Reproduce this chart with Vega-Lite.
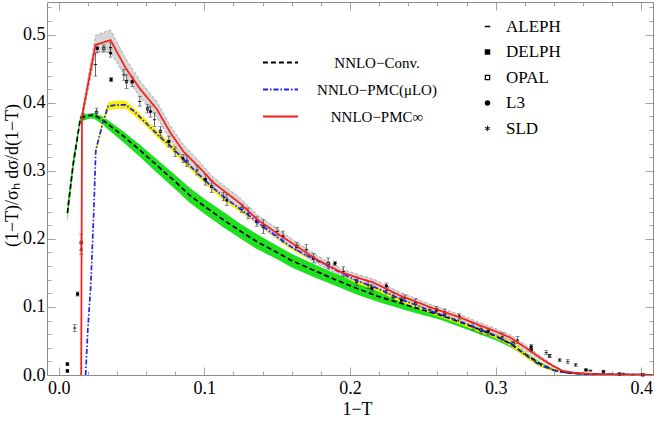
{
  "$schema": "https://vega.github.io/schema/vega-lite/v6.json",
  "width": 606,
  "height": 373,
  "autosize": {"type": "none"},
  "padding": {"left": 47, "top": 2, "right": 1, "bottom": 46},
  "background": "white",
  "datasets": {
    "theory": [
      {"model": "NNLO−Conv.", "x": 0.006, "y": 0.238, "lo": 0.225, "hi": 0.25},
      {"model": "NNLO−Conv.", "x": 0.010, "y": 0.310, "lo": 0.300, "hi": 0.320},
      {"model": "NNLO−Conv.", "x": 0.015, "y": 0.378, "lo": 0.372, "hi": 0.382},
      {"model": "NNLO−Conv.", "x": 0.020, "y": 0.381, "lo": 0.376, "hi": 0.384},
      {"model": "NNLO−Conv.", "x": 0.024, "y": 0.382, "lo": 0.377, "hi": 0.385},
      {"model": "NNLO−Conv.", "x": 0.030, "y": 0.375, "lo": 0.368, "hi": 0.380},
      {"model": "NNLO−Conv.", "x": 0.036, "y": 0.365, "lo": 0.357, "hi": 0.371},
      {"model": "NNLO−Conv.", "x": 0.045, "y": 0.350, "lo": 0.341, "hi": 0.357},
      {"model": "NNLO−Conv.", "x": 0.056, "y": 0.330, "lo": 0.320, "hi": 0.338},
      {"model": "NNLO−Conv.", "x": 0.068, "y": 0.307, "lo": 0.296, "hi": 0.316},
      {"model": "NNLO−Conv.", "x": 0.080, "y": 0.284, "lo": 0.273, "hi": 0.294},
      {"model": "NNLO−Conv.", "x": 0.090, "y": 0.264, "lo": 0.253, "hi": 0.275},
      {"model": "NNLO−Conv.", "x": 0.100, "y": 0.248, "lo": 0.237, "hi": 0.259},
      {"model": "NNLO−Conv.", "x": 0.113, "y": 0.228, "lo": 0.217, "hi": 0.240},
      {"model": "NNLO−Conv.", "x": 0.125, "y": 0.211, "lo": 0.200, "hi": 0.222},
      {"model": "NNLO−Conv.", "x": 0.136, "y": 0.196, "lo": 0.185, "hi": 0.207},
      {"model": "NNLO−Conv.", "x": 0.150, "y": 0.180, "lo": 0.170, "hi": 0.190},
      {"model": "NNLO−Conv.", "x": 0.160, "y": 0.168, "lo": 0.158, "hi": 0.178},
      {"model": "NNLO−Conv.", "x": 0.175, "y": 0.154, "lo": 0.144, "hi": 0.163},
      {"model": "NNLO−Conv.", "x": 0.190, "y": 0.140, "lo": 0.131, "hi": 0.149},
      {"model": "NNLO−Conv.", "x": 0.205, "y": 0.127, "lo": 0.118, "hi": 0.136},
      {"model": "NNLO−Conv.", "x": 0.220, "y": 0.115, "lo": 0.107, "hi": 0.123},
      {"model": "NNLO−Conv.", "x": 0.240, "y": 0.102, "lo": 0.094, "hi": 0.110},
      {"model": "NNLO−Conv.", "x": 0.262, "y": 0.088, "lo": 0.081, "hi": 0.095},
      {"model": "NNLO−Conv.", "x": 0.284, "y": 0.071, "lo": 0.064, "hi": 0.078},
      {"model": "NNLO−Conv.", "x": 0.300, "y": 0.057, "lo": 0.051, "hi": 0.063},
      {"model": "NNLO−Conv.", "x": 0.310, "y": 0.046, "lo": 0.041, "hi": 0.051},
      {"model": "NNLO−Conv.", "x": 0.320, "y": 0.031, "lo": 0.027, "hi": 0.035},
      {"model": "NNLO−Conv.", "x": 0.330, "y": 0.017, "lo": 0.014, "hi": 0.020},
      {"model": "NNLO−Conv.", "x": 0.340, "y": 0.007, "lo": 0.005, "hi": 0.009},
      {"model": "NNLO−Conv.", "x": 0.350, "y": 0.003, "lo": 0.002, "hi": 0.004},
      {"model": "NNLO−Conv.", "x": 0.360, "y": 0.0015, "lo": 0.001, "hi": 0.002},
      {"model": "NNLO−Conv.", "x": 0.380, "y": 0.0008, "lo": 0.0005, "hi": 0.001},
      {"model": "NNLO−Conv.", "x": 0.408, "y": 0.0003, "lo": 0.0002, "hi": 0.0004},
      {"model": "NNLO−PMC(μLO)", "x": 0.0185, "y": 0, "lo": 0, "hi": 0},
      {"model": "NNLO−PMC(μLO)", "x": 0.020, "y": 0.066, "lo": 0.064, "hi": 0.068},
      {"model": "NNLO−PMC(μLO)", "x": 0.022, "y": 0.130, "lo": 0.127, "hi": 0.133},
      {"model": "NNLO−PMC(μLO)", "x": 0.024, "y": 0.233, "lo": 0.229, "hi": 0.237},
      {"model": "NNLO−PMC(μLO)", "x": 0.0255, "y": 0.330, "lo": 0.325, "hi": 0.335},
      {"model": "NNLO−PMC(μLO)", "x": 0.030, "y": 0.368, "lo": 0.362, "hi": 0.374},
      {"model": "NNLO−PMC(μLO)", "x": 0.034, "y": 0.395, "lo": 0.389, "hi": 0.401},
      {"model": "NNLO−PMC(μLO)", "x": 0.040, "y": 0.397, "lo": 0.391, "hi": 0.403},
      {"model": "NNLO−PMC(μLO)", "x": 0.046, "y": 0.397, "lo": 0.391, "hi": 0.403},
      {"model": "NNLO−PMC(μLO)", "x": 0.052, "y": 0.387, "lo": 0.381, "hi": 0.392},
      {"model": "NNLO−PMC(μLO)", "x": 0.061, "y": 0.368, "lo": 0.363, "hi": 0.373},
      {"model": "NNLO−PMC(μLO)", "x": 0.070, "y": 0.349, "lo": 0.344, "hi": 0.354},
      {"model": "NNLO−PMC(μLO)", "x": 0.079, "y": 0.332, "lo": 0.327, "hi": 0.337},
      {"model": "NNLO−PMC(μLO)", "x": 0.086, "y": 0.316, "lo": 0.311, "hi": 0.321},
      {"model": "NNLO−PMC(μLO)", "x": 0.095, "y": 0.297, "lo": 0.292, "hi": 0.302},
      {"model": "NNLO−PMC(μLO)", "x": 0.104, "y": 0.279, "lo": 0.274, "hi": 0.284},
      {"model": "NNLO−PMC(μLO)", "x": 0.113, "y": 0.262, "lo": 0.257, "hi": 0.267},
      {"model": "NNLO−PMC(μLO)", "x": 0.122, "y": 0.248, "lo": 0.243, "hi": 0.253},
      {"model": "NNLO−PMC(μLO)", "x": 0.1315, "y": 0.233, "lo": 0.229, "hi": 0.238},
      {"model": "NNLO−PMC(μLO)", "x": 0.1406, "y": 0.218, "lo": 0.214, "hi": 0.223},
      {"model": "NNLO−PMC(μLO)", "x": 0.150, "y": 0.203, "lo": 0.199, "hi": 0.208},
      {"model": "NNLO−PMC(μLO)", "x": 0.159, "y": 0.189, "lo": 0.185, "hi": 0.193},
      {"model": "NNLO−PMC(μLO)", "x": 0.168, "y": 0.178, "lo": 0.174, "hi": 0.182},
      {"model": "NNLO−PMC(μLO)", "x": 0.182, "y": 0.163, "lo": 0.159, "hi": 0.167},
      {"model": "NNLO−PMC(μLO)", "x": 0.195, "y": 0.149, "lo": 0.145, "hi": 0.153},
      {"model": "NNLO−PMC(μLO)", "x": 0.205, "y": 0.138, "lo": 0.134, "hi": 0.142},
      {"model": "NNLO−PMC(μLO)", "x": 0.216, "y": 0.130, "lo": 0.126, "hi": 0.134},
      {"model": "NNLO−PMC(μLO)", "x": 0.234, "y": 0.112, "lo": 0.108, "hi": 0.116},
      {"model": "NNLO−PMC(μLO)", "x": 0.257, "y": 0.093, "lo": 0.089, "hi": 0.097},
      {"model": "NNLO−PMC(μLO)", "x": 0.275, "y": 0.079, "lo": 0.075, "hi": 0.083},
      {"model": "NNLO−PMC(μLO)", "x": 0.289, "y": 0.067, "lo": 0.063, "hi": 0.071},
      {"model": "NNLO−PMC(μLO)", "x": 0.300, "y": 0.058, "lo": 0.054, "hi": 0.062},
      {"model": "NNLO−PMC(μLO)", "x": 0.310, "y": 0.047, "lo": 0.043, "hi": 0.051},
      {"model": "NNLO−PMC(μLO)", "x": 0.320, "y": 0.030, "lo": 0.026, "hi": 0.034},
      {"model": "NNLO−PMC(μLO)", "x": 0.330, "y": 0.015, "lo": 0.012, "hi": 0.018},
      {"model": "NNLO−PMC(μLO)", "x": 0.340, "y": 0.007, "lo": 0.005, "hi": 0.009},
      {"model": "NNLO−PMC(μLO)", "x": 0.350, "y": 0.003, "lo": 0.002, "hi": 0.004},
      {"model": "NNLO−PMC(μLO)", "x": 0.360, "y": 0.0015, "lo": 0.001, "hi": 0.002},
      {"model": "NNLO−PMC(μLO)", "x": 0.380, "y": 0.0008, "lo": 0.0005, "hi": 0.001},
      {"model": "NNLO−PMC(μLO)", "x": 0.408, "y": 0.0003, "lo": 0.0002, "hi": 0.0004},
      {"model": "NNLO−PMC∞", "x": 0.0155, "y": 0, "lo": 0, "hi": 0},
      {"model": "NNLO−PMC∞", "x": 0.016, "y": 0.380, "lo": 0.372, "hi": 0.386},
      {"model": "NNLO−PMC∞", "x": 0.0253, "y": 0.485, "lo": 0.474, "hi": 0.499},
      {"model": "NNLO−PMC∞", "x": 0.0356, "y": 0.492, "lo": 0.474, "hi": 0.507},
      {"model": "NNLO−PMC∞", "x": 0.046, "y": 0.451, "lo": 0.438, "hi": 0.465},
      {"model": "NNLO−PMC∞", "x": 0.056, "y": 0.420, "lo": 0.408, "hi": 0.432},
      {"model": "NNLO−PMC∞", "x": 0.0676, "y": 0.390, "lo": 0.378, "hi": 0.401},
      {"model": "NNLO−PMC∞", "x": 0.0767, "y": 0.356, "lo": 0.345, "hi": 0.366},
      {"model": "NNLO−PMC∞", "x": 0.0858, "y": 0.328, "lo": 0.318, "hi": 0.338},
      {"model": "NNLO−PMC∞", "x": 0.097, "y": 0.304, "lo": 0.295, "hi": 0.313},
      {"model": "NNLO−PMC∞", "x": 0.106, "y": 0.283, "lo": 0.275, "hi": 0.291},
      {"model": "NNLO−PMC∞", "x": 0.1155, "y": 0.267, "lo": 0.259, "hi": 0.275},
      {"model": "NNLO−PMC∞", "x": 0.1247, "y": 0.252, "lo": 0.244, "hi": 0.260},
      {"model": "NNLO−PMC∞", "x": 0.136, "y": 0.229, "lo": 0.222, "hi": 0.236},
      {"model": "NNLO−PMC∞", "x": 0.150, "y": 0.208, "lo": 0.201, "hi": 0.215},
      {"model": "NNLO−PMC∞", "x": 0.1635, "y": 0.189, "lo": 0.183, "hi": 0.195},
      {"model": "NNLO−PMC∞", "x": 0.177, "y": 0.170, "lo": 0.164, "hi": 0.176},
      {"model": "NNLO−PMC∞", "x": 0.193, "y": 0.152, "lo": 0.147, "hi": 0.157},
      {"model": "NNLO−PMC∞", "x": 0.205, "y": 0.143, "lo": 0.138, "hi": 0.148},
      {"model": "NNLO−PMC∞", "x": 0.216, "y": 0.136, "lo": 0.131, "hi": 0.141},
      {"model": "NNLO−PMC∞", "x": 0.234, "y": 0.117, "lo": 0.113, "hi": 0.122},
      {"model": "NNLO−PMC∞", "x": 0.257, "y": 0.098, "lo": 0.094, "hi": 0.102},
      {"model": "NNLO−PMC∞", "x": 0.275, "y": 0.085, "lo": 0.081, "hi": 0.089},
      {"model": "NNLO−PMC∞", "x": 0.289, "y": 0.073, "lo": 0.069, "hi": 0.077},
      {"model": "NNLO−PMC∞", "x": 0.300, "y": 0.064, "lo": 0.060, "hi": 0.068},
      {"model": "NNLO−PMC∞", "x": 0.310, "y": 0.055, "lo": 0.051, "hi": 0.059},
      {"model": "NNLO−PMC∞", "x": 0.320, "y": 0.041, "lo": 0.037, "hi": 0.045},
      {"model": "NNLO−PMC∞", "x": 0.330, "y": 0.026, "lo": 0.023, "hi": 0.029},
      {"model": "NNLO−PMC∞", "x": 0.338, "y": 0.015, "lo": 0.013, "hi": 0.017},
      {"model": "NNLO−PMC∞", "x": 0.346, "y": 0.006, "lo": 0.005, "hi": 0.007},
      {"model": "NNLO−PMC∞", "x": 0.355, "y": 0.003, "lo": 0.0025, "hi": 0.0035},
      {"model": "NNLO−PMC∞", "x": 0.370, "y": 0.0012, "lo": 0.001, "hi": 0.0014},
      {"model": "NNLO−PMC∞", "x": 0.408, "y": 0.0003, "lo": 0.0002, "hi": 0.0004}
    ],
    "exp": [
      {"exp": "DELPH", "x": 0.006, "y": 0.016, "lo": 0.014, "hi": 0.018},
      {"exp": "DELPH", "x": 0.006, "y": 0.006, "lo": 0.004, "hi": 0.008},
      {"exp": "ALEPH", "x": 0.011, "y": 0.069, "lo": 0.064, "hi": 0.074},
      {"exp": "DELPH", "x": 0.013, "y": 0.119, "lo": 0.116, "hi": 0.122},
      {"exp": "OPAL", "x": 0.0155, "y": 0.195, "lo": 0.183, "hi": 0.207},
      {"exp": "ALEPH", "x": 0.0155, "y": 0.185, "lo": 0.177, "hi": 0.193},
      {"exp": "ALEPH", "x": 0.017, "y": 0.380, "lo": 0.376, "hi": 0.384},
      {"exp": "OPAL", "x": 0.026, "y": 0.386, "lo": 0.380, "hi": 0.392},
      {"exp": "ALEPH", "x": 0.0253, "y": 0.456, "lo": 0.439, "hi": 0.473},
      {"exp": "DELPH", "x": 0.0265, "y": 0.480, "lo": 0.474, "hi": 0.486},
      {"exp": "OPAL", "x": 0.031, "y": 0.480, "lo": 0.475, "hi": 0.485},
      {"exp": "ALEPH", "x": 0.0356, "y": 0.481, "lo": 0.474, "hi": 0.488},
      {"exp": "L3", "x": 0.0356, "y": 0.473, "lo": 0.467, "hi": 0.479},
      {"exp": "DELPH", "x": 0.036, "y": 0.434, "lo": 0.431, "hi": 0.437},
      {"exp": "ALEPH", "x": 0.0447, "y": 0.441, "lo": 0.433, "hi": 0.449},
      {"exp": "OPAL", "x": 0.0466, "y": 0.431, "lo": 0.421, "hi": 0.441},
      {"exp": "DELPH", "x": 0.0505, "y": 0.431, "lo": 0.424, "hi": 0.438},
      {"exp": "ALEPH", "x": 0.0557, "y": 0.402, "lo": 0.395, "hi": 0.409},
      {"exp": "OPAL", "x": 0.061, "y": 0.391, "lo": 0.385, "hi": 0.397},
      {"exp": "L3", "x": 0.063, "y": 0.387, "lo": 0.379, "hi": 0.395},
      {"exp": "ALEPH", "x": 0.0658, "y": 0.375, "lo": 0.365, "hi": 0.385},
      {"exp": "OPAL", "x": 0.0699, "y": 0.358, "lo": 0.351, "hi": 0.365},
      {"exp": "DELPH", "x": 0.0756, "y": 0.343, "lo": 0.335, "hi": 0.351},
      {"exp": "ALEPH", "x": 0.080, "y": 0.328, "lo": 0.321, "hi": 0.335},
      {"exp": "L3", "x": 0.0854, "y": 0.318, "lo": 0.312, "hi": 0.324},
      {"exp": "OPAL", "x": 0.088, "y": 0.314, "lo": 0.306, "hi": 0.322},
      {"exp": "ALEPH", "x": 0.095, "y": 0.301, "lo": 0.294, "hi": 0.308},
      {"exp": "DELPH", "x": 0.1007, "y": 0.287, "lo": 0.279, "hi": 0.295},
      {"exp": "OPAL", "x": 0.105, "y": 0.277, "lo": 0.268, "hi": 0.286},
      {"exp": "ALEPH", "x": 0.1132, "y": 0.262, "lo": 0.256, "hi": 0.268},
      {"exp": "L3", "x": 0.1155, "y": 0.257, "lo": 0.249, "hi": 0.265},
      {"exp": "OPAL", "x": 0.1258, "y": 0.245, "lo": 0.239, "hi": 0.251},
      {"exp": "ALEPH", "x": 0.130, "y": 0.2375, "lo": 0.2295, "hi": 0.2455},
      {"exp": "DELPH", "x": 0.136, "y": 0.2255, "lo": 0.2185, "hi": 0.2325},
      {"exp": "OPAL", "x": 0.1406, "y": 0.218, "lo": 0.208, "hi": 0.228},
      {"exp": "ALEPH", "x": 0.150, "y": 0.211, "lo": 0.205, "hi": 0.217},
      {"exp": "L3", "x": 0.154, "y": 0.2034, "lo": 0.1954, "hi": 0.2114},
      {"exp": "OPAL", "x": 0.1635, "y": 0.189, "lo": 0.183, "hi": 0.195},
      {"exp": "ALEPH", "x": 0.170, "y": 0.184, "lo": 0.176, "hi": 0.192},
      {"exp": "DELPH", "x": 0.175, "y": 0.1716, "lo": 0.1646, "hi": 0.1786},
      {"exp": "OPAL", "x": 0.185, "y": 0.164, "lo": 0.156, "hi": 0.172},
      {"exp": "L3", "x": 0.1897, "y": 0.164, "lo": 0.161, "hi": 0.167},
      {"exp": "ALEPH", "x": 0.1955, "y": 0.152, "lo": 0.145, "hi": 0.159},
      {"exp": "OPAL", "x": 0.2046, "y": 0.138, "lo": 0.132, "hi": 0.144},
      {"exp": "ALEPH", "x": 0.2125, "y": 0.132, "lo": 0.127, "hi": 0.137},
      {"exp": "DELPH", "x": 0.215, "y": 0.1275, "lo": 0.1225, "hi": 0.1325},
      {"exp": "L3", "x": 0.225, "y": 0.131, "lo": 0.127, "hi": 0.135},
      {"exp": "ALEPH", "x": 0.225, "y": 0.124, "lo": 0.119, "hi": 0.129},
      {"exp": "OPAL", "x": 0.2297, "y": 0.115, "lo": 0.109, "hi": 0.121},
      {"exp": "DELPH", "x": 0.2354, "y": 0.110, "lo": 0.106, "hi": 0.114},
      {"exp": "ALEPH", "x": 0.2377, "y": 0.1127, "lo": 0.1077, "hi": 0.1177},
      {"exp": "OPAL", "x": 0.245, "y": 0.105, "lo": 0.098, "hi": 0.112},
      {"exp": "ALEPH", "x": 0.2548, "y": 0.0956, "lo": 0.0916, "hi": 0.0996},
      {"exp": "DELPH", "x": 0.2594, "y": 0.0956, "lo": 0.0906, "hi": 0.1006},
      {"exp": "OPAL", "x": 0.265, "y": 0.091, "lo": 0.085, "hi": 0.097},
      {"exp": "L3", "x": 0.275, "y": 0.086, "lo": 0.082, "hi": 0.090},
      {"exp": "ALEPH", "x": 0.2845, "y": 0.071, "lo": 0.066, "hi": 0.076},
      {"exp": "OPAL", "x": 0.290, "y": 0.066, "lo": 0.061, "hi": 0.071},
      {"exp": "DELPH", "x": 0.2948, "y": 0.0637, "lo": 0.0587, "hi": 0.0687},
      {"exp": "ALEPH", "x": 0.3046, "y": 0.056, "lo": 0.050, "hi": 0.062},
      {"exp": "OPAL", "x": 0.312, "y": 0.0466, "lo": 0.0436, "hi": 0.0496},
      {"exp": "ALEPH", "x": 0.315, "y": 0.0515, "lo": 0.0465, "hi": 0.0565},
      {"exp": "L3", "x": 0.3244, "y": 0.0417, "lo": 0.0387, "hi": 0.0447},
      {"exp": "DELPH", "x": 0.3244, "y": 0.0368, "lo": 0.0338, "hi": 0.0398},
      {"exp": "ALEPH", "x": 0.3347, "y": 0.0328, "lo": 0.0298, "hi": 0.0358},
      {"exp": "OPAL", "x": 0.337, "y": 0.028, "lo": 0.026, "hi": 0.030},
      {"exp": "SLD", "x": 0.344, "y": 0.022, "lo": 0.020, "hi": 0.024},
      {"exp": "ALEPH", "x": 0.3495, "y": 0.0196, "lo": 0.0166, "hi": 0.0226},
      {"exp": "SLD", "x": 0.355, "y": 0.0147, "lo": 0.0127, "hi": 0.0167},
      {"exp": "DELPH", "x": 0.362, "y": 0.0074, "lo": 0.0064, "hi": 0.0084},
      {"exp": "ALEPH", "x": 0.365, "y": 0.0064, "lo": 0.0054, "hi": 0.0074},
      {"exp": "L3", "x": 0.374, "y": 0.005, "lo": 0.003, "hi": 0.007},
      {"exp": "DELPH", "x": 0.385, "y": 0.0015, "lo": 0.0005, "hi": 0.0025},
      {"exp": "SLD", "x": 0.3875, "y": 0.0015, "lo": 0.0005, "hi": 0.0025},
      {"exp": "ALEPH", "x": 0.394, "y": 0.0005, "lo": 0.0, "hi": 0.001},
      {"exp": "OPAL", "x": 0.401, "y": 0.0003, "lo": 0.0, "hi": 0.0006}
    ]
  },
  "layer": [
    {
      "data": {"name": "theory"},
      "transform": [{"filter": "datum.model === 'NNLO−Conv.'"}],
      "mark": {"type": "area", "color": "#1fe01f", "clip": true},
      "encoding": {
        "x": {
          "field": "x", "type": "quantitative",
          "scale": {"domain": [-0.008, 0.408], "nice": false, "zero": false},
          "axis": {
            "title": "1−T",
            "values": [0, 0.02, 0.04, 0.06, 0.08, 0.1, 0.12, 0.14, 0.16, 0.18, 0.2, 0.22, 0.24, 0.26, 0.28, 0.3, 0.32, 0.34, 0.36, 0.38, 0.4],
            "labelExpr": "abs(datum.value*10 - round(datum.value*10)) < 0.001 ? format(datum.value, '.1f') : ''",
            "tickSize": {"condition": {"test": "abs(datum.value*10 - round(datum.value*10)) < 0.001", "value": -8}, "value": -4},
            "labelPadding": 12,
            "titleX": 310,
            "titleY": 39,
            "titleBaseline": "alphabetic"
          }
        },
        "y": {
          "field": "lo", "type": "quantitative",
          "scale": {"domain": [0, 0.548], "nice": false, "zero": false},
          "axis": {
            "title": "(1−T)/σₕ dσ/d(1−T)",
            "values": [0, 0.02, 0.04, 0.06, 0.08, 0.1, 0.12, 0.14, 0.16, 0.18, 0.2, 0.22, 0.24, 0.26, 0.28, 0.3, 0.32, 0.34, 0.36, 0.38, 0.4, 0.42, 0.44, 0.46, 0.48, 0.5, 0.52, 0.54],
            "labelExpr": "abs(datum.value*10 - round(datum.value*10)) < 0.001 ? format(datum.value, '.1f') : ''",
            "tickSize": {"condition": {"test": "abs(datum.value*10 - round(datum.value*10)) < 0.001", "value": -8}, "value": -4},
            "labelPadding": 10,
            "titleX": -35,
            "titleY": 173,
            "titleAlign": "center",
            "titleBaseline": "middle",
            "titleAngle": -90
          }
        },
        "y2": {"field": "hi"}
      }
    },
    {
      "data": {"name": "theory"},
      "transform": [{"filter": "datum.model === 'NNLO−PMC(μLO)'"}],
      "mark": {"type": "area", "color": "#f7f000", "clip": true},
      "encoding": {
        "x": {"field": "x", "type": "quantitative", "scale": {"domain": [-0.008, 0.408], "nice": false, "zero": false}, "axis": null},
        "y": {"field": "lo", "type": "quantitative", "scale": {"domain": [0, 0.548], "nice": false, "zero": false}, "axis": null},
        "y2": {"field": "hi"}
      }
    },
    {
      "data": {"name": "theory"},
      "transform": [{"filter": "datum.model === 'NNLO−PMC∞'"}],
      "mark": {"type": "area", "color": "#d6d6d6", "clip": true},
      "encoding": {
        "x": {"field": "x", "type": "quantitative", "scale": {"domain": [-0.008, 0.408], "nice": false, "zero": false}, "axis": null},
        "y": {"field": "lo", "type": "quantitative", "scale": {"domain": [0, 0.548], "nice": false, "zero": false}, "axis": null},
        "y2": {"field": "hi"}
      }
    },
    {
      "data": {"name": "theory"},
      "transform": [{"filter": "datum.model === 'NNLO−PMC∞'"}],
      "mark": {"type": "line", "color": "#9a9a9a", "strokeWidth": 0.8, "strokeDash": [3, 2], "clip": true},
      "encoding": {
        "x": {"field": "x", "type": "quantitative", "scale": {"domain": [-0.008, 0.408], "nice": false, "zero": false}, "axis": null},
        "y": {"field": "hi", "type": "quantitative", "scale": {"domain": [0, 0.548], "nice": false, "zero": false}, "axis": null}
      }
    },
    {
      "data": {"name": "theory"},
      "transform": [{"filter": "datum.model === 'NNLO−PMC∞'"}],
      "mark": {"type": "line", "color": "#9a9a9a", "strokeWidth": 0.8, "strokeDash": [3, 2], "clip": true},
      "encoding": {
        "x": {"field": "x", "type": "quantitative", "scale": {"domain": [-0.008, 0.408], "nice": false, "zero": false}, "axis": null},
        "y": {"field": "lo", "type": "quantitative", "scale": {"domain": [0, 0.548], "nice": false, "zero": false}, "axis": null}
      }
    },
    {
      "data": {"name": "exp"},
      "mark": {"type": "errorbar", "ticks": {"size": 4, "color": "#444444"}, "color": "#444444", "thickness": 0.8},
      "encoding": {
        "x": {"field": "x", "type": "quantitative", "scale": {"domain": [-0.008, 0.408], "nice": false, "zero": false}, "axis": null},
        "y": {"field": "lo", "type": "quantitative", "scale": {"domain": [0, 0.548], "nice": false, "zero": false}, "axis": null},
        "y2": {"field": "hi"}
      }
    },
    {
      "data": {"name": "exp"},
      "mark": {"type": "point", "filled": true, "color": "black", "size": 10, "opacity": 1},
      "encoding": {
        "x": {
          "field": "x", "type": "quantitative",
          "scale": {"domain": [-0.008, 0.408], "nice": false, "zero": false},
          "axis": {
            "orient": "top", "labels": false, "title": null,
            "values": [0, 0.02, 0.04, 0.06, 0.08, 0.1, 0.12, 0.14, 0.16, 0.18, 0.2, 0.22, 0.24, 0.26, 0.28, 0.3, 0.32, 0.34, 0.36, 0.38, 0.4],
            "tickSize": {"condition": {"test": "abs(datum.value*10 - round(datum.value*10)) < 0.001", "value": -8}, "value": -4}
          }
        },
        "y": {
          "field": "y", "type": "quantitative",
          "scale": {"domain": [0, 0.548], "nice": false, "zero": false},
          "axis": {
            "orient": "right", "labels": false, "title": null,
            "values": [0, 0.02, 0.04, 0.06, 0.08, 0.1, 0.12, 0.14, 0.16, 0.18, 0.2, 0.22, 0.24, 0.26, 0.28, 0.3, 0.32, 0.34, 0.36, 0.38, 0.4, 0.42, 0.44, 0.46, 0.48, 0.5, 0.52, 0.54],
            "tickSize": {"condition": {"test": "abs(datum.value*10 - round(datum.value*10)) < 0.001", "value": -8}, "value": -4}
          }
        },
        "shape": {
          "field": "exp", "type": "nominal",
          "scale": {
            "domain": ["ALEPH", "DELPH", "OPAL", "L3", "SLD"],
            "range": [
              "M-1,-0.28H1V0.28H-1Z",
              "square",
              "M-1,-1H1V1H-1Z M-0.55,-0.55V0.55H0.55V-0.55Z",
              "circle",
              "M-0.15,-1H0.15V1H-0.15Z M-0.941,-0.37L-0.791,-0.63L0.941,0.37L0.791,0.63Z M-0.791,0.63L-0.941,0.37L0.791,-0.63L0.941,-0.37Z"
            ]
          },
          "legend": {
            "orient": "none", "legendX": 432, "legendY": 16, "title": null, "padding": 0,
            "symbolSize": 30, "symbolFillColor": "black", "symbolStrokeWidth": 0,
            "labelFontSize": 17, "labelOffset": 10, "rowPadding": 7.5
          }
        }
      }
    },
    {
      "data": {"name": "theory"},
      "mark": {"type": "line", "strokeWidth": 1.7, "clip": true},
      "encoding": {
        "x": {"field": "x", "type": "quantitative", "scale": {"domain": [-0.008, 0.408], "nice": false, "zero": false}, "axis": null},
        "y": {"field": "y", "type": "quantitative", "scale": {"domain": [0, 0.548], "nice": false, "zero": false}, "axis": null},
        "color": {
          "field": "model", "type": "nominal",
          "scale": {"domain": ["NNLO−Conv.", "NNLO−PMC(μLO)", "NNLO−PMC∞"], "range": ["black", "#1f1fff", "#ff1a1a"]},
          "legend": {
            "orient": "none", "legendX": 215, "legendY": 42, "title": null, "padding": 0,
            "symbolType": "stroke", "symbolSize": 1225, "symbolStrokeWidth": 2,
            "labelFontSize": 15, "labelAlign": "center", "labelOffset": 78, "labelLimit": 300, "rowPadding": -8
          }
        },
        "strokeDash": {
          "field": "model", "type": "nominal",
          "scale": {"domain": ["NNLO−Conv.", "NNLO−PMC(μLO)", "NNLO−PMC∞"], "range": [[5, 3], [5, 2, 1.5, 2], [1, 0]]},
          "legend": {
            "orient": "none", "legendX": 215, "legendY": 42, "title": null, "padding": 0,
            "symbolType": "stroke", "symbolSize": 1225, "symbolStrokeWidth": 2,
            "labelFontSize": 15, "labelAlign": "center", "labelOffset": 78, "labelLimit": 300, "rowPadding": -8
          }
        }
      }
    }
  ],
  "resolve": {"axis": {"x": "independent", "y": "independent"}},
  "config": {
    "font": "Liberation Serif",
    "view": {"stroke": "#8c8c8c", "strokeWidth": 1},
    "axis": {
      "domain": false,
      "grid": false,
      "tickColor": "#8c8c8c",
      "tickWidth": 0.8,
      "labelColor": "black",
      "labelFont": "Liberation Serif",
      "labelFontSize": 18,
      "labelOverlap": false,
      "labelFlush": false,
      "titleFont": "Liberation Serif",
      "titleFontSize": 18,
      "titleFontWeight": "normal",
      "titleColor": "black"
    },
    "legend": {"labelFont": "Liberation Serif", "labelColor": "black"}
  }
}
